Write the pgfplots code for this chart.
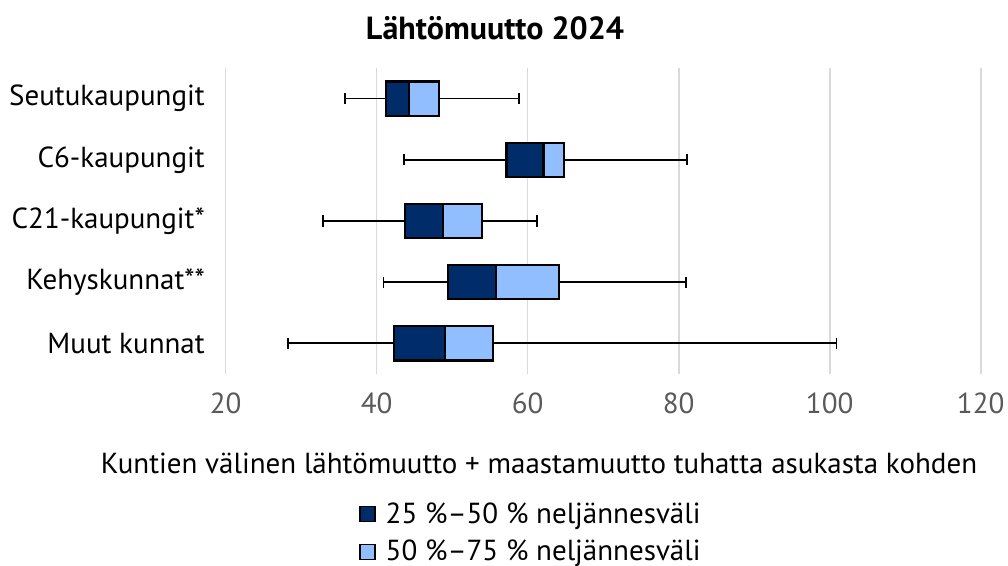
\documentclass[border=0pt]{standalone}
\usepackage{pgfplots}
\pgfplotsset{compat=1.18}
\usepgfplotslibrary{statistics}
\usepackage{fontspec}
\setmainfont{PT Sans}

\definecolor{qdark}{RGB}{0,45,106}
\definecolor{qlight}{RGB}{145,190,255}
\definecolor{gridgray}{RGB}{217,217,217}
\definecolor{ticktext}{RGB}{89,89,89}

\begin{document}
\begin{tikzpicture}
\path[use as bounding box] (0,0) rectangle (504pt,283pt);
\node[font=\fontsize{16}{19}\selectfont\bfseries] at (247.5pt,269pt) {Lähtömuutto 2024};
\node[font=\fontsize{14.5}{17}\selectfont] at (269.5pt,51.5pt)
  {Kuntien välinen lähtömuutto + maastamuutto tuhatta asukasta kohden};
\begin{axis}[
  at={(112.85pt,96pt)}, anchor=south west,
  scale only axis, width=377.5pt, height=153pt,
  xmin=20, xmax=120, ymin=0.5, ymax=5.5, y dir=reverse,
  xtick={20,40,...,120}, ytick={1,...,5},
  yticklabels={Seutukaupungit,C6-kaupungit,C21-kaupungit*,Kehyskunnat**,Muut kunnat},
  axis line style={draw=none}, major tick length=0pt,
  xmajorgrids, grid style={gridgray, line width=0.8pt},
  tick label style={font=\fontsize{14.5}{17}\selectfont},
  /pgf/number format/assume math mode=true,
  xticklabel style={ticktext, yshift=-6pt},
  yticklabel style={inner sep=0pt, xshift=-10.3pt},
  boxplot/draw direction=x,
  boxplot/box extend=0.56,
  boxplot/whisker extend=0.18,
  boxplot/every box/.style={line width=1.1pt},
  boxplot/every median/.style={line width=1.1pt},
  boxplot/every whisker/.style={line width=0.9pt},
  legend image code/.code={\draw[#1, line width=0.8pt] (0pt,-3.75pt) rectangle (7.5pt,3.75pt);
    \path[draw=none, fill=none] (11pt,0pt);},
  legend style={at={(0.168,-0.392)}, anchor=north west, draw=none,
    font=\fontsize{14.5}{17}\selectfont, row sep=3pt},
  legend cell align=left,
]
% full box (50-75 % colour) with whiskers
\addplot[forget plot, fill=qlight, draw=black, boxplot prepared={draw position=1,
  lower whisker=35.8, lower quartile=41.2, median=44.3, upper quartile=48.2, upper whisker=58.9}] coordinates {};
\addplot[forget plot, fill=qlight, draw=black, boxplot prepared={draw position=2,
  lower whisker=43.6, lower quartile=57.2, median=62.1, upper quartile=64.8, upper whisker=81.1}] coordinates {};
\addplot[forget plot, fill=qlight, draw=black, boxplot prepared={draw position=3,
  lower whisker=32.9, lower quartile=43.7, median=48.8, upper quartile=53.9, upper whisker=61.2}] coordinates {};
\addplot[forget plot, fill=qlight, draw=black, boxplot prepared={draw position=4,
  lower whisker=40.9, lower quartile=49.4, median=55.8, upper quartile=64.1, upper whisker=81.0}] coordinates {};
\addplot[forget plot, fill=qlight, draw=black, boxplot prepared={draw position=5,
  lower whisker=28.2, lower quartile=42.3, median=49.0, upper quartile=55.4, upper whisker=100.9}] coordinates {};
% 25-50 % part on top
\addplot[forget plot, fill=qdark, draw=black, boxplot prepared={draw position=1, whisker extend=0,
  lower whisker=41.2, lower quartile=41.2, median=44.3, upper quartile=44.3, upper whisker=44.3}] coordinates {};
\addplot[forget plot, fill=qdark, draw=black, boxplot prepared={draw position=2, whisker extend=0,
  lower whisker=57.2, lower quartile=57.2, median=62.1, upper quartile=62.1, upper whisker=62.1}] coordinates {};
\addplot[forget plot, fill=qdark, draw=black, boxplot prepared={draw position=3, whisker extend=0,
  lower whisker=43.7, lower quartile=43.7, median=48.8, upper quartile=48.8, upper whisker=48.8}] coordinates {};
\addplot[forget plot, fill=qdark, draw=black, boxplot prepared={draw position=4, whisker extend=0,
  lower whisker=49.4, lower quartile=49.4, median=55.8, upper quartile=55.8, upper whisker=55.8}] coordinates {};
\addplot[forget plot, fill=qdark, draw=black, boxplot prepared={draw position=5, whisker extend=0,
  lower whisker=42.3, lower quartile=42.3, median=49.0, upper quartile=49.0, upper whisker=49.0}] coordinates {};
\addlegendimage{fill=qdark, draw=black}
\addlegendentry{25 \%--50 \% neljännesväli}
\addlegendimage{fill=qlight, draw=black}
\addlegendentry{50 \%--75 \% neljännesväli}
\end{axis}
\end{tikzpicture}
\end{document}
